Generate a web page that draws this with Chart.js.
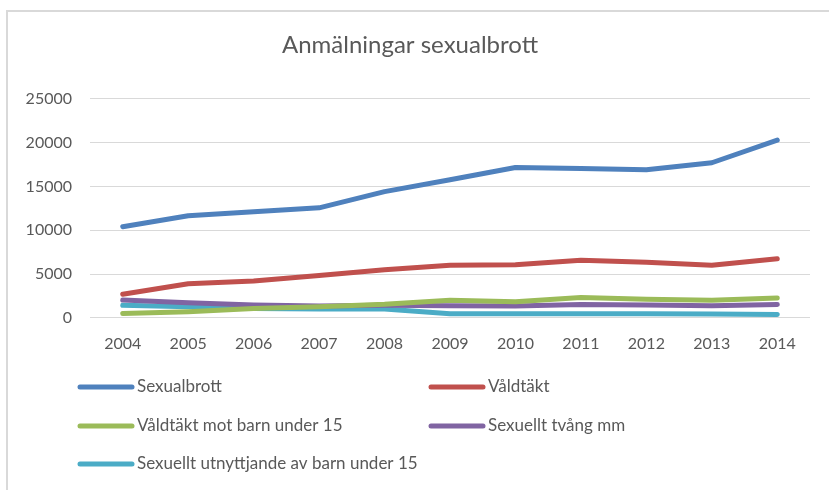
<!DOCTYPE html>
<html>
<head>
<meta charset="utf-8">
<script src="https://cdn.jsdelivr.net/npm/chart.js@4.4.1/dist/chart.umd.min.js"></script>
<style>
  html, body { margin: 0; padding: 0; background: #fff; }
  #wrap { position: relative; width: 829px; height: 490px; overflow: hidden; }
  #frame { position: absolute; left: 6px; top: 10px; right: -10px; bottom: -10px;
           border-left: 2px solid #d9d9d9; border-top: 2px solid #d9d9d9; }
  canvas { position: absolute; left: 0; top: 0; }
</style>
</head>
<body>
<div id="wrap">
  <div id="frame"></div>
  <canvas id="brottChart" width="829" height="490"></canvas>
</div>
<script>
const years = ['2004', '2005', '2006', '2007', '2008', '2009', '2010', '2011', '2012', '2013', '2014'];

const sexualbrott = [10400, 11650, 12100, 12550, 14400, 15750, 17150, 17050, 16900, 17700, 20280];
const valdtakt = [2690, 3880, 4200, 4840, 5490, 5990, 6050, 6570, 6340, 5990, 6740];
const valdtaktBarn = [480, 700, 1070, 1270, 1540, 2000, 1840, 2330, 2110, 2000, 2270];
const sexuelltTvang = [2030, 1730, 1460, 1340, 1420, 1380, 1340, 1530, 1460, 1380, 1530];
const utnyttjandeBarn = [1440, 1270, 1070, 1000, 1000, 460, 450, 460, 460, 420, 370];

const seriesNames = [
    'Sexualbrott',
    'Våldtäkt',
    'Våldtäkt mot barn under 15',
    'Sexuellt tvång mm',
    'Sexuellt utnyttjande av barn under 15'
];
const seriesColors = ['#4F81BD', '#C0504D', '#9BBB59', '#8064A2', '#4BACC6'];
const seriesData = [sexualbrott, valdtakt, valdtaktBarn, sexuelltTvang, utnyttjandeBarn];

const textColor = '#595959';
const fontFamily = 'Lato, "Open Sans", sans-serif';

// legend in two columns, like the Excel one
const legendGrid = {
    id: 'legendGrid',
    afterDraw(chart) {
        const ctx = chart.ctx;
        const cols = [78, 429];
        const rows = [387, 426, 464];
        ctx.save();
        ctx.font = '17px ' + fontFamily;
        ctx.textBaseline = 'middle';
        chart.data.datasets.forEach((ds, i) => {
            const x = cols[i % 2];
            const y = rows[Math.floor(i / 2)];
            ctx.strokeStyle = ds.borderColor;
            ctx.lineWidth = 5;
            ctx.lineCap = 'round';
            ctx.beginPath();
            ctx.moveTo(x + 2, y);
            ctx.lineTo(x + 54, y);
            ctx.stroke();
            ctx.fillStyle = textColor;
            ctx.fillText(ds.label, x + 59, y);
        });
        ctx.restore();
    }
};

const ctx = document.getElementById('brottChart').getContext('2d');
new Chart(ctx, {
    type: 'line',
    data: {
        labels: years,
        datasets: seriesData.map((d, i) => ({
            label: seriesNames[i],
            data: d,
            borderColor: seriesColors[i],
            backgroundColor: seriesColors[i],
            borderWidth: 5,
            borderCapStyle: 'round',
            borderJoinStyle: 'round',
            pointRadius: 0,
            tension: 0,
            fill: false
        }))
    },
    options: {
        responsive: false,
        animation: false,
        layout: { padding: { left: 10, right: 19, top: 12, bottom: 121 } },
        plugins: {
            legend: { display: false },
            tooltip: { enabled: false },
            title: {
                display: true,
                text: 'Anmälningar sexualbrott',
                color: textColor,
                font: { family: fontFamily, size: 24, weight: 'normal', lineHeight: 1.2 },
                padding: { top: 19, bottom: 39 }
            }
        },
        scales: {
            x: {
                offset: true,
                grid: { display: false, drawTicks: false },
                border: { display: false },
                ticks: { color: textColor, padding: 16, font: { family: fontFamily, size: 16 } }
            },
            y: {
                min: 0,
                max: 25000,
                grid: { color: '#d9d9d9', lineWidth: 1, drawTicks: false },
                border: { display: false },
                ticks: {
                    stepSize: 5000,
                    color: textColor,
                    padding: 18,
                    font: { family: fontFamily, size: 16 },
                    callback: v => String(v)
                },
                afterFit(scale) { scale.width = 80; }
            }
        }
    },
    plugins: [legendGrid]
});
</script>
</body>
</html>
